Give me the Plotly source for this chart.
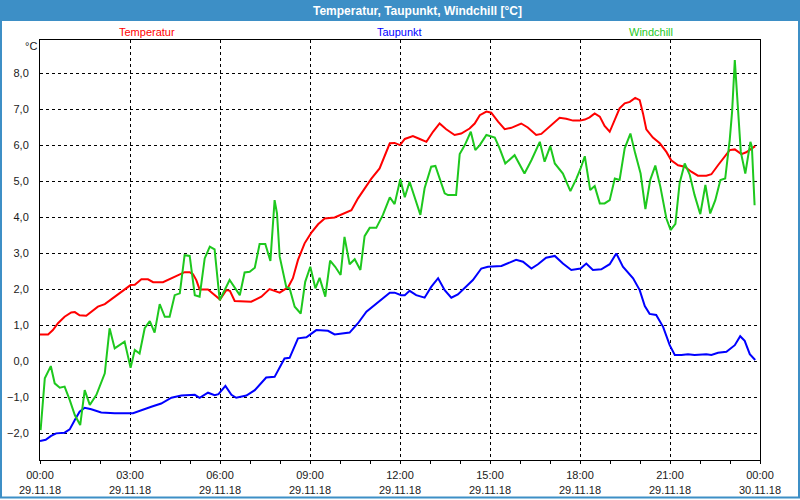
import plotly.graph_objects as go

# ---- data (hours since 29.11.18 00:00) ----
temp_h = [0, 0.27, 0.43, 0.6, 0.82, 1.04, 1.16, 1.32, 1.54, 1.77, 1.93, 2.16, 2.38, 2.6, 2.82, 3.02, 3.16, 3.38, 3.6, 3.77,
          4.1, 4.32, 4.49, 4.66, 4.82, 4.99, 5.1, 5.21, 5.32, 5.6, 5.82, 6.0, 6.21, 6.33, 6.49, 7.04, 7.38, 7.65, 7.99, 8.27,
          8.43, 8.6, 8.82, 9.04, 9.27, 9.49, 9.82, 10.04, 10.38, 10.6, 10.82, 11.04, 11.32, 11.49, 11.66, 11.82, 12.0, 12.16,
          12.43, 12.66, 12.88, 13.1, 13.32, 13.54, 13.82, 14.04, 14.32, 14.49, 14.66, 14.88, 15.04, 15.27, 15.49, 15.71,
          16.04, 16.26, 16.54, 16.71, 17.04, 17.32, 17.54, 17.77, 18.0, 18.16, 18.32, 18.49, 18.66, 18.82, 18.99, 19.16,
          19.32, 19.49, 19.66, 19.84, 19.99, 20.1, 20.21, 20.43, 20.66, 20.88, 21.04, 21.27, 21.49, 21.71, 21.93, 22.21,
          22.38, 22.6, 22.82, 22.99, 23.16, 23.38, 23.54, 23.71, 23.84]
temp_v = [0.74, 0.74, 0.86, 1.05, 1.23, 1.35, 1.36, 1.27, 1.26, 1.40, 1.51, 1.58, 1.71, 1.86, 1.99, 2.11, 2.12, 2.27, 2.27, 2.19,
          2.19, 2.27, 2.35, 2.41, 2.47, 2.47, 2.41, 2.25, 1.99, 1.99, 1.83, 1.71, 1.97, 1.95, 1.67, 1.65, 1.79, 2.0, 1.90, 2.05,
          2.30, 2.81, 3.27, 3.56, 3.80, 3.96, 3.99, 4.07, 4.19, 4.52, 4.80, 5.06, 5.35, 5.72, 6.05, 6.06, 6.0, 6.17,
          6.25, 6.17, 6.09, 6.37, 6.60, 6.44, 6.28, 6.32, 6.46, 6.60, 6.83, 6.93, 6.90, 6.65, 6.44, 6.48,
          6.60, 6.49, 6.28, 6.31, 6.56, 6.76, 6.73, 6.68, 6.68, 6.71, 6.77, 6.88, 6.79, 6.53, 6.37, 6.68,
          7.02, 7.16, 7.20, 7.31, 7.25, 6.88, 6.44, 6.21, 6.05, 5.81, 5.58, 5.44, 5.40, 5.26, 5.15, 5.15,
          5.19, 5.44, 5.68, 5.86, 5.88, 5.75, 5.80, 5.91, 5.97]

dew_h = [0, 0.19, 0.37, 0.54, 0.82, 0.99, 1.16, 1.32, 1.49, 1.71, 2.04, 2.49, 3.1, 3.38, 3.71, 4.04, 4.38, 4.71, 5.16, 5.32,
         5.6, 5.82, 5.95, 6.18, 6.38, 6.54, 6.88, 7.16, 7.54, 7.82, 8.15, 8.32, 8.6, 8.88, 9.21, 9.6, 9.82, 10.32, 10.6,
         10.88, 11.27, 11.66, 11.82, 12.04, 12.16, 12.32, 12.54, 12.82, 13.04, 13.27, 13.49, 13.71, 13.93, 14.21, 14.43,
         14.71, 14.93, 15.38, 15.87, 16.1, 16.38, 16.6, 16.87, 17.16, 17.43, 17.71, 18.02, 18.21, 18.43, 18.71, 18.99,
         19.21, 19.43, 19.77, 19.99, 20.16, 20.32, 20.54, 20.77, 20.99, 21.16, 21.38, 21.6, 21.82, 22.21, 22.38, 22.6,
         22.88, 23.16, 23.34, 23.49, 23.66, 23.84]
dew_v = [-2.22, -2.19, -2.08, -2.01, -1.99, -1.90, -1.64, -1.41, -1.30, -1.34, -1.43, -1.45, -1.45, -1.36, -1.27, -1.18, -1.02,
         -0.96, -0.94, -1.02, -0.88, -0.95, -0.92, -0.69, -0.94, -1.02, -0.96, -0.81, -0.46, -0.44, 0.07, 0.09, 0.63, 0.66,
         0.86, 0.84, 0.74, 0.79, 1.05, 1.37, 1.63, 1.90, 1.90, 1.83, 1.83, 1.95, 1.83, 1.76, 2.06, 2.30, 1.97, 1.76, 1.85,
         2.06, 2.25, 2.57, 2.62, 2.64, 2.81, 2.76, 2.57, 2.69, 2.87, 2.92, 2.71, 2.53, 2.57, 2.71, 2.53, 2.55, 2.69,
         2.99, 2.62, 2.30, 1.97, 1.53, 1.31, 1.28, 0.95, 0.44, 0.17, 0.17, 0.19, 0.17, 0.19, 0.17, 0.23,
         0.26, 0.44, 0.69, 0.56, 0.19, 0.03]

wind_h = [0.02, 0.16, 0.36, 0.49, 0.66, 0.82, 0.99, 1.16, 1.34, 1.49, 1.66, 1.88, 2.16, 2.32, 2.49, 2.82, 3.02, 3.16, 3.32,
          3.49, 3.66, 3.82, 3.99, 4.16, 4.32, 4.49, 4.66, 4.82, 4.99, 5.16, 5.32, 5.49, 5.66, 5.82, 5.99, 6.32, 6.66, 6.82,
          6.99, 7.16, 7.32, 7.51, 7.68, 7.82, 7.9, 7.99, 8.21, 8.32, 8.49, 8.69, 8.84, 9.01, 9.18, 9.32, 9.51, 9.67, 9.84,
          10.02, 10.15, 10.32, 10.49, 10.68, 10.82, 10.99, 11.21, 11.43, 11.66, 11.82, 12.01, 12.16, 12.32, 12.49, 12.68,
          12.82, 13.04, 13.18, 13.49, 13.6, 13.87, 13.99, 14.16, 14.36, 14.51, 14.66, 14.88, 15.16, 15.32, 15.51, 15.82,
          16.15, 16.38, 16.66, 16.82, 17.01, 17.16, 17.43, 17.68, 17.88, 18.02, 18.16, 18.34, 18.49, 18.66, 18.82, 18.99,
          19.16, 19.32, 19.49, 19.68, 19.84, 20.02, 20.18, 20.34, 20.51, 20.68, 20.88, 21.02, 21.18, 21.32, 21.49, 21.66,
          21.82, 22.01, 22.18, 22.34, 22.51, 22.68, 22.84, 22.99, 23.07, 23.16, 23.24, 23.36, 23.51, 23.68, 23.73, 23.82]
wind_v = [-1.92, -0.48, -0.14, -0.62, -0.74, -0.71, -1.08, -1.50, -1.78, -0.81, -1.22, -0.94, -0.34, 0.91, 0.35, 0.54, -0.19,
          0.31, 0.21, 0.91, 1.11, 0.79, 1.58, 1.23, 1.23, 1.83, 1.88, 2.94, 2.92, 1.83, 1.79, 2.85, 3.18, 3.10, 1.69, 2.25,
          1.83, 2.46, 2.48, 2.59, 3.25, 3.25, 2.78, 4.47, 4.10, 2.90, 2.05, 2.02, 1.51, 1.32, 2.20, 2.62, 2.02, 2.31, 1.79,
          2.79, 2.62, 2.39, 3.45, 2.69, 2.83, 2.53, 3.47, 3.70, 3.70, 4.06, 4.55, 4.36, 5.05, 4.55, 4.98, 4.56, 4.06,
          4.80, 5.40, 5.42, 4.66, 4.61, 4.61, 5.75, 6.0, 6.37, 5.86, 6.0, 6.28, 6.21, 5.91, 5.49, 5.72,
          5.21, 5.58, 6.09, 5.54, 5.97, 5.49, 5.21, 4.72, 5.07, 5.35, 5.69, 4.75, 4.86, 4.38, 4.38, 4.47,
          5.07, 5.03, 5.91, 6.32, 5.77, 5.21, 4.22, 5.03, 5.43, 4.84, 3.96, 3.64, 3.81, 4.94, 5.49, 5.17,
          4.61, 4.08, 4.89, 4.10, 4.47, 5.03, 5.07, 6.14, 6.93, 8.36, 7.34, 5.81, 5.21, 6.09, 5.95, 4.33]

x_tickvals = [0, 3, 6, 9, 12, 15, 18, 21, 24]
x_ticktext = ["00:00<br>29.11.18", "03:00<br>29.11.18", "06:00<br>29.11.18", "09:00<br>29.11.18",
              "12:00<br>29.11.18", "15:00<br>29.11.18", "18:00<br>29.11.18", "21:00<br>29.11.18",
              "00:00<br>30.11.18"]
y_tickvals = [-2, -1, 0, 1, 2, 3, 4, 5, 6, 7, 8]

series_names = ["Temperatur", "Taupunkt", "Windchill"]
series_colors = ["#ff0000", "#0000ff", "#1ec81e"]
title_text = "Temperatur, Taupunkt, Windchill [°C]"

# ---- layout helpers (pixel -> paper) ----
W, H = 800, 500
L, R, T, B = 40, 40, 40, 40
def px(x):
    return (x - L) / (W - L - R)
def py(y):
    return (H - B - y) / (H - T - B)

FONT = "Liberation Sans, Arial, sans-serif"
BLUE = "#3d8fc6"
TXT = "#1a1a1a"

fig = go.Figure()
for hh, vv, nm, col in zip([temp_h, dew_h, wind_h], [temp_v, dew_v, wind_v], series_names, series_colors):
    fig.add_trace(go.Scatter(x=hh, y=vv, mode="lines", name=nm,
                             line=dict(color=col, width=2), hoverinfo="skip"))

fig.update_layout(
    width=W, height=H,
    margin=dict(l=L, r=R, t=T, b=B, autoexpand=False),
    paper_bgcolor="white", plot_bgcolor="white",
    showlegend=False,
    separators=",.",
    font=dict(family=FONT, size=11, color=TXT),
    xaxis=dict(range=[0, 24], tickvals=x_tickvals, ticktext=x_ticktext,
               showgrid=True, gridcolor="black", gridwidth=1, griddash="3px,3px",
               showline=True, linecolor="black", linewidth=1, mirror=True,
               ticks="outside", ticklen=3, tickcolor="black", ticklabelstandoff=2,
               minor=dict(dtick=1, tick0=0, ticks="outside", ticklen=3, tickcolor="black", showgrid=False),
               zeroline=False, fixedrange=True, automargin=False,
               tickfont=dict(family=FONT, size=11, color=TXT)),
    yaxis=dict(range=[-2.75, 8.92], tickvals=y_tickvals, tickformat=".1f",
               showgrid=True, gridcolor="black", gridwidth=1, griddash="3px,3px",
               showline=True, linecolor="black", linewidth=1, mirror=True,
               ticks="", ticklabelstandoff=8,
               zeroline=False, fixedrange=True, automargin=False,
               tickfont=dict(family=FONT, size=11, color=TXT)),
)

shapes = [
    dict(type="rect", xref="paper", yref="paper", x0=px(0), x1=px(800), y0=py(21), y1=py(0),
         fillcolor=BLUE, line=dict(width=0), layer="above"),
    dict(type="rect", xref="paper", yref="paper", x0=px(1), x1=px(799), y0=py(497.5), y1=py(10),
         fillcolor="rgba(0,0,0,0)", line=dict(color=BLUE, width=2), layer="above"),
]
fig.update_layout(shapes=shapes)

ann = [
    dict(text="<b>" + title_text + "</b>", x=px(417), y=py(11), xref="paper", yref="paper",
         showarrow=False, xanchor="center", yanchor="middle",
         font=dict(family=FONT, size=12, color="white")),
    dict(text="°C", x=px(31), y=py(46), xref="paper", yref="paper", showarrow=False,
         xanchor="center", yanchor="middle", font=dict(family=FONT, size=11, color=TXT)),
]
for nm, col, cx in zip(series_names, series_colors, [147, 399, 651]):
    ann.append(dict(text=nm, x=px(cx), y=py(32), xref="paper", yref="paper", showarrow=False,
                    xanchor="center", yanchor="middle", font=dict(family=FONT, size=11, color=col)))
fig.update_layout(annotations=ann)

fig.write_html("out.html", config={"displayModeBar": False},
               post_script="document.body.style.margin='0px';document.body.style.overflow='hidden';")
